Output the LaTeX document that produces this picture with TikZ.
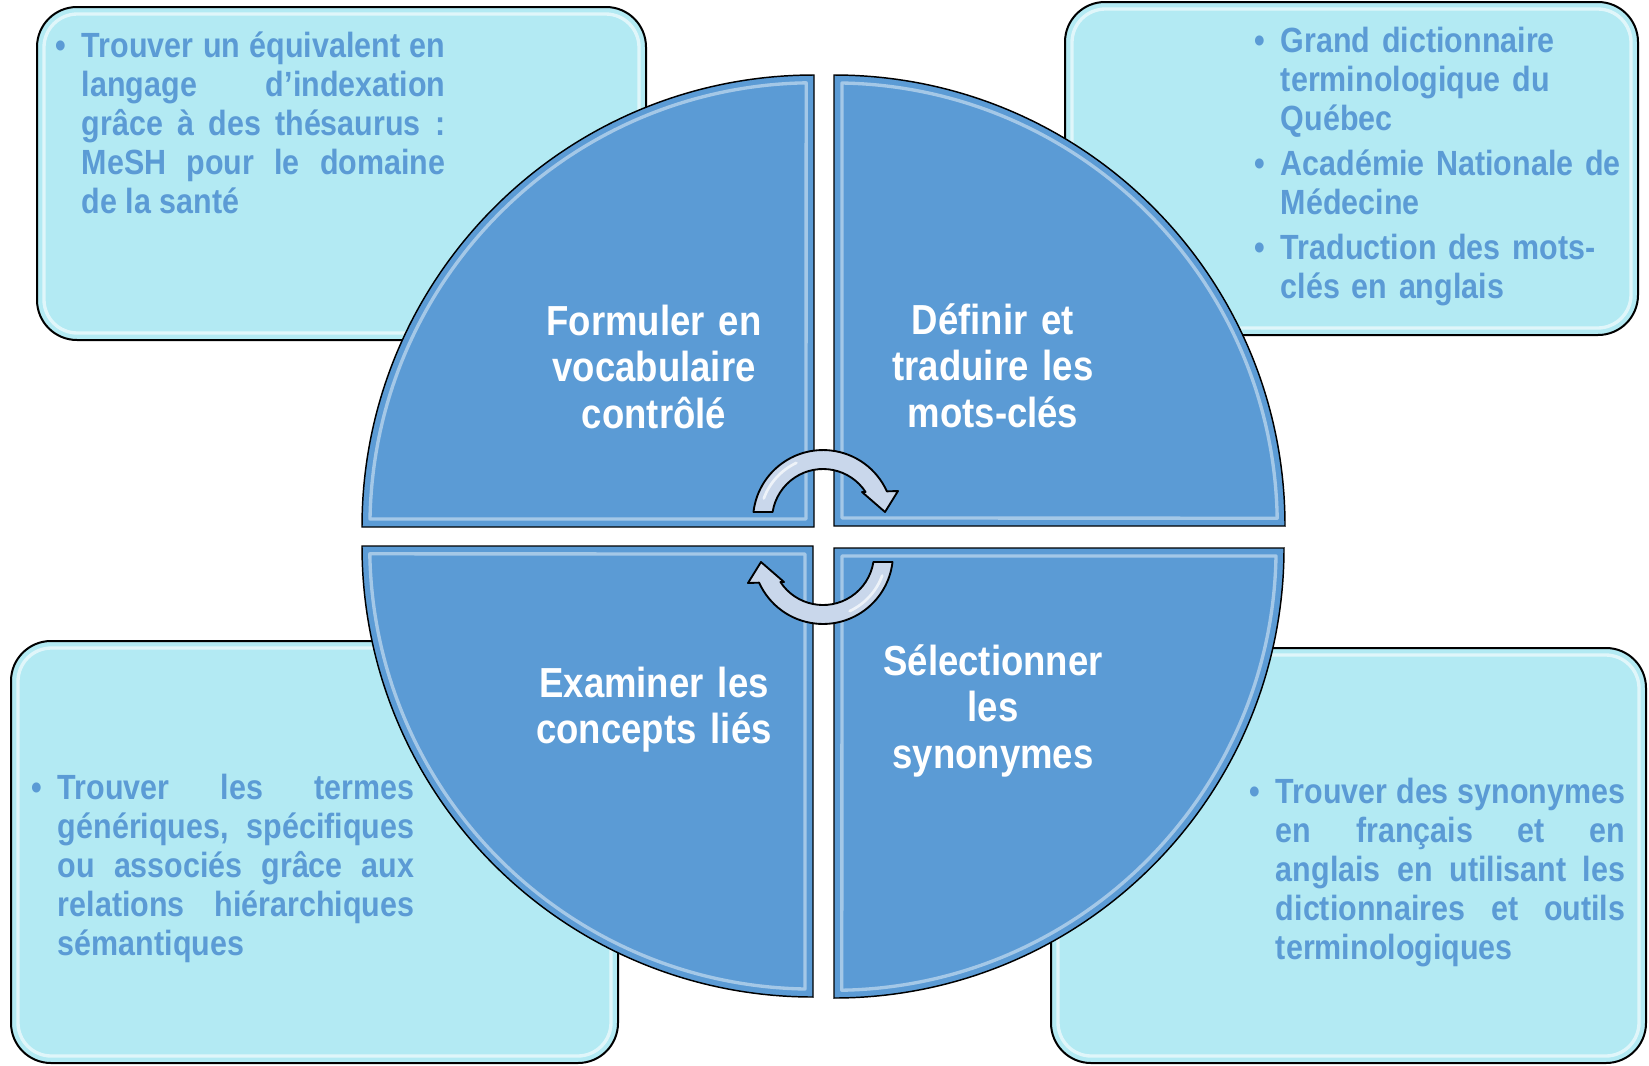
\documentclass[tikz,border=0pt]{standalone}
\usepackage{fontspec}
\setmainfont{Liberation Sans}[FakeStretch=0.87]
\usetikzlibrary{calc}

\definecolor{quartblue}{HTML}{5B9BD5}
\definecolor{boxcyan}{HTML}{B3EAF3}
\definecolor{turngrey}{HTML}{C9D7EB}

\tikzstyle{infobox}  = [draw=black, line width=1.5pt, fill=boxcyan, rounded corners=30pt]
\tikzstyle{boxglow}  = [draw=white, line width=2.5pt, opacity=0.6, rounded corners=25pt]
\tikzstyle{quart}    = [draw=black, line width=1.1pt, fill=quartblue]
\tikzstyle{bevel}    = [draw=white, line width=2.5pt, opacity=0.45, line join=round]
\tikzstyle{turn}     = [draw=black, line width=1.4pt, fill=turngrey, line join=round]
\tikzstyle{steptext} = [inner sep=0pt, anchor=base, text width=225pt, align=center, text=white,
                        font=\bfseries\fontsize{31.5}{35}\selectfont]
\tikzstyle{note}     = [inner sep=0pt, anchor=base west, text=quartblue,
                        font=\bfseries\fontsize{26.25}{29.25}\selectfont]

\newcommand{\notebullet}{\noindent\hangindent=20pt\hangafter=1\relax\makebox[20pt][l]{\textbullet}}

\begin{document}
\begin{tikzpicture}[x=0.75pt,y=-0.75pt]
  \useasboundingbox (0,0) rectangle (1649,1065);
  \hbadness=10000 \hyphenpenalty=10000

  % the four boxes
  \draw[infobox] (37,7) rectangle (646,340);
  \draw[boxglow] (44,14) rectangle (639,333);
  \draw[infobox] (1065,2) rectangle (1638,335);
  \draw[boxglow] (1072,9) rectangle (1631,328);
  \draw[infobox] (11,641) rectangle (618,1063);
  \draw[boxglow] (18,648) rectangle (611,1056);
  \draw[infobox] (1051,648) rectangle (1646,1063);
  \draw[boxglow] (1058,655) rectangle (1639,1056);

  % the circle, cut in four
  \draw[quart] (814,527) -- (362,527) arc[start angle=180, end angle=270, radius=452] -- cycle;
  \draw[bevel] (806,519) -- (370,519) arc[start angle=181, end angle=269, radius=444] -- cycle;
  \draw[quart] (834,526) -- (834,75) arc[start angle=270, end angle=360, radius=451] -- cycle;
  \draw[bevel] (842,518) -- (842,83) arc[start angle=271, end angle=359, radius=443] -- cycle;
  \draw[quart] (834,548) -- (1284,548) arc[start angle=0, end angle=90, radius=450] -- cycle;
  \draw[bevel] (842,556) -- (1276,556) arc[start angle=1, end angle=89, radius=442] -- cycle;
  \draw[quart] (813,546) -- (813,997) arc[start angle=90, end angle=180, radius=451] -- cycle;
  \draw[bevel] (805,554) -- (805,989) arc[start angle=91, end angle=179, radius=443] -- cycle;

  % turning arrows
  \draw[turn] (753.5,512) arc[start angle=186.6, end angle=335.8, radius=70]
     -- (898,491) -- (885,512) -- (862,492) -- (865.6,492)
     arc[start angle=326.7, end angle=189, radius=51] -- cycle;
  \draw[white, line width=2pt, opacity=0.7, line cap=round] (823,520) ++(200:63) arc[start angle=200, end angle=245, radius=63];
  \begin{scope}[rotate around={180:(823,537)}]
    \draw[turn] (753.5,512) arc[start angle=186.6, end angle=335.8, radius=70]
       -- (898,491) -- (885,512) -- (862,492) -- (865.6,492)
       arc[start angle=326.7, end angle=189, radius=51] -- cycle;
    \draw[white, line width=2pt, opacity=0.7, line cap=round] (823,520) ++(200:63) arc[start angle=200, end angle=245, radius=63];
  \end{scope}

  % steps
  \node at (654,335) (formuler) [steptext] {Formuler en\\vocabulaire\\contrôlé};
  \node at (993,334) (definir) [steptext] {Définir et\\traduire les\\mots-clés};
  \node at (654,697) (examiner) [steptext] {Examiner les\\concepts liés};
  \node at (993,675) (selection) [steptext] {Sélectionner\\les\\synonymes};

  % notes
  \node at (55,57) (thesaurus) [note, text width=292.5pt, align=justify]
    {\notebullet Trouver un équivalent en\linebreak langage d’indexation\linebreak grâce à des thésaurus :\linebreak MeSH pour le domaine\linebreak de la santé\par};
  \node at (1254,52) (dicos) [note, text width=280pt, align=left]
    {\notebullet Grand dictionnaire\newline terminologique du\newline Québec\par\vspace{4.5pt}
     \notebullet Académie Nationale de\newline Médecine\par\vspace{4.5pt}
     \notebullet Traduction des mots-\newline clés en anglais\par};
  \node at (31,799) (relations) [note, text width=287.25pt, align=justify]
    {\notebullet Trouver les termes\linebreak génériques, spécifiques\linebreak ou associés grâce aux\linebreak relations hiérarchiques\linebreak sémantiques\par};
  \node at (1249,803) (synonymes) [note, text width=282pt, align=justify]
    {\notebullet Trouver des synonymes\linebreak en français et en\linebreak anglais en utilisant les\linebreak dictionnaires et outils\linebreak terminologiques\par};
\end{tikzpicture}
\end{document}
